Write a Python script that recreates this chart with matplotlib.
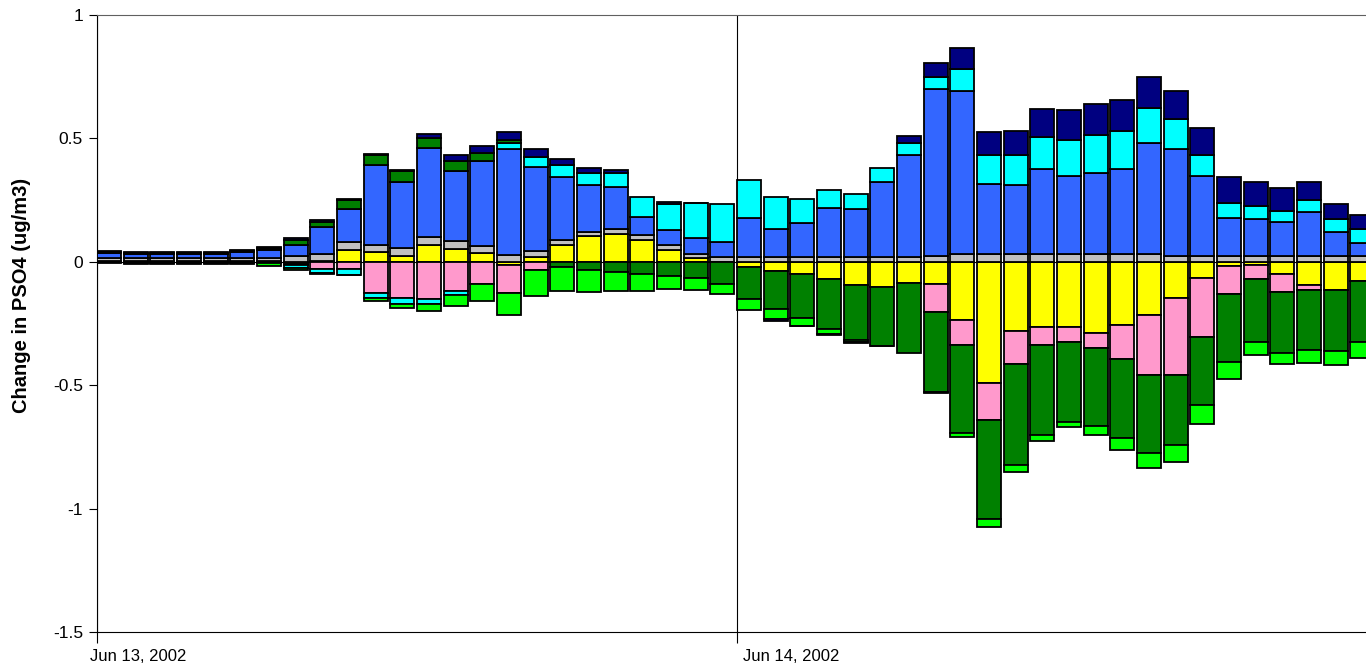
import numpy as np
import matplotlib
matplotlib.use("Agg")
import matplotlib.pyplot as plt
from matplotlib.transforms import ScaledTranslation

plt.rcParams["font.family"] = ["Liberation Sans", "DejaVu Sans"]

# hourly contributions, starting Jun 13, 2002 00:00 (one bar per hour)
hours = np.arange(48)

yellow = [0.003, 0.003, 0.003, 0.003, 0.003, 0.003, 0.003, -0.008, 0.002, 0.049,
          0.038, 0.024, 0.067, 0.053, 0.034, -0.012, 0.020, 0.070, 0.103, 0.112,
          0.089, 0.047, 0.016, 0.0, -0.022, -0.038, -0.049, -0.069, -0.096, -0.103,
          -0.087, -0.090, -0.236, -0.490, -0.279, -0.265, -0.265, -0.288, -0.258, -0.215,
          -0.148, -0.067, -0.019, -0.011, -0.049, -0.093, -0.113, -0.077]
gray = [0.012, 0.012, 0.012, 0.012, 0.012, 0.013, 0.014, 0.024, 0.030, 0.032,
        0.030, 0.032, 0.032, 0.032, 0.030, 0.028, 0.024, 0.020, 0.018, 0.021,
        0.020, 0.022, 0.016, 0.020, 0.019, 0.019, 0.019, 0.019, 0.019, 0.019,
        0.020, 0.024, 0.032, 0.032, 0.032, 0.032, 0.032, 0.032, 0.032, 0.032,
        0.024, 0.023, 0.023, 0.023, 0.023, 0.023, 0.023, 0.023]
pink = [-0.002, -0.003, -0.003, -0.003, -0.003, -0.003, -0.006, -0.006, -0.028, -0.030,
        -0.126, -0.146, -0.150, -0.119, -0.089, -0.115, -0.034, 0.0, 0.0, 0.0,
        0.0, 0.0, 0.0, 0.0, 0.0, 0.0, 0.0, 0.0, 0.0, 0.0,
        0.0, -0.114, -0.101, -0.151, -0.134, -0.074, -0.061, -0.061, -0.135, -0.243,
        -0.310, -0.239, -0.113, -0.058, -0.073, -0.020, 0.0, 0.0]
blue = [0.022, 0.018, 0.018, 0.018, 0.018, 0.024, 0.030, 0.044, 0.107, 0.134,
        0.324, 0.267, 0.364, 0.283, 0.346, 0.430, 0.341, 0.252, 0.189, 0.172,
        0.072, 0.059, 0.064, 0.062, 0.159, 0.115, 0.137, 0.198, 0.195, 0.303,
        0.414, 0.675, 0.662, 0.283, 0.279, 0.344, 0.314, 0.328, 0.346, 0.448,
        0.435, 0.325, 0.154, 0.152, 0.137, 0.177, 0.097, 0.055]
cyan = [0.002, 0.002, 0.002, 0.002, 0.002, 0.002, 0.004, -0.010, -0.018, -0.022,
        -0.022, -0.024, -0.020, -0.014, 0.0, 0.022, 0.040, 0.049, 0.051, 0.055,
        0.081, 0.107, 0.141, 0.154, 0.153, 0.130, 0.098, 0.073, 0.061, 0.057,
        0.049, 0.051, 0.087, 0.118, 0.121, 0.131, 0.148, 0.154, 0.152, 0.145,
        0.118, 0.085, 0.061, 0.050, 0.045, 0.051, 0.054, 0.055]
dgreen = [0.002, 0.002, 0.002, 0.002, 0.002, 0.002, 0.004, 0.021, 0.024, 0.036,
          0.040, 0.043, 0.040, 0.040, 0.031, 0.015, 0.0, -0.021, -0.032, -0.040,
          -0.049, -0.057, -0.065, -0.089, -0.128, -0.155, -0.178, -0.202, -0.221, -0.237,
          -0.283, -0.325, -0.355, -0.403, -0.412, -0.364, -0.323, -0.316, -0.322, -0.316,
          -0.283, -0.273, -0.272, -0.257, -0.247, -0.246, -0.250, -0.247]
lime = [-0.002, -0.005, -0.005, -0.005, -0.005, -0.005, -0.009, -0.008, -0.003, -0.003,
        -0.010, -0.019, -0.030, -0.047, -0.068, -0.087, -0.103, -0.096, -0.091, -0.080,
        -0.068, -0.053, -0.049, -0.042, -0.047, -0.037, -0.032, -0.022, -0.006, 0.0,
        0.0, -0.004, -0.017, -0.032, -0.028, -0.025, -0.022, -0.035, -0.049, -0.062,
        -0.070, -0.078, -0.070, -0.052, -0.047, -0.050, -0.055, -0.064]
navy = [0.003, 0.002, 0.002, 0.002, 0.002, 0.003, 0.004, 0.007, 0.005, 0.003,
        0.005, 0.004, 0.014, 0.023, 0.029, 0.032, 0.032, 0.025, 0.021, 0.013,
        0.0, 0.007, 0.003, 0.0, 0.0, -0.009, -0.003, -0.005, -0.008, -0.003,
        0.027, 0.054, 0.084, 0.091, 0.098, 0.111, 0.120, 0.126, 0.126, 0.122,
        0.116, 0.111, 0.107, 0.100, 0.096, 0.073, 0.060, 0.057]

series = [yellow, gray, pink, blue, cyan, dgreen, lime, navy]
colors = ["#FFFF00", "#C0C0C0", "#FF99CC", "#3366FF",
          "#00FFFF", "#008000", "#00FF00", "#000080"]

y_ticks = [1, 0.5, 0, -0.5, -1, -1.5]
y_tick_labels = ["1", "0.5", "0", "-0.5", "-1", "-1.5"]
x_ticks = [0, 24]
x_tick_labels = ["Jun 13, 2002", "Jun 14, 2002"]

W, H = 1366, 665
fig = plt.figure(figsize=(W / 100, H / 100), dpi=100)
ax = fig.add_axes([97 / W, 1 - 632 / H, 1 - 97 / W, (632 - 15) / H])

# positives stack upward from zero, negatives stack downward from zero
pos_base = np.zeros(len(hours))
neg_base = np.zeros(len(hours))
for vals, col in zip(series, colors):
    v = np.asarray(vals, dtype=float)
    base = np.where(v >= 0, pos_base, neg_base)
    m = v != 0
    ax.bar(hours[m], v[m], width=0.9, bottom=base[m], align="edge",
           color=col, edgecolor="black", linewidth=1.3, zorder=3)
    pos_base += np.clip(v, 0, None)
    neg_base += np.clip(v, None, 0)

ax.set_xlim(0, (W - 97) / (640 / 24))
ax.set_ylim(-1.5, 1)

ax.axhline(0, color="black", linewidth=0.8, zorder=2)

ax.set_yticks(y_ticks)
ax.set_yticklabels(y_tick_labels, fontsize=12.5)
ax.set_xticks(x_ticks)
ax.set_xticklabels(x_tick_labels, fontsize=12, ha="left")
ax.tick_params(axis="y", direction="out", length=6, width=0.8, pad=4)
ax.tick_params(axis="x", direction="out", length=8, width=0.8, pad=4)
offsets = [-7, 6]
for lab, dx in zip(ax.get_xticklabels(), offsets):
    lab.set_transform(lab.get_transform() + ScaledTranslation(dx / 100, 0, fig.dpi_scale_trans))

ax.xaxis.grid(True, color="black", linewidth=0.8, zorder=1)
ax.set_axisbelow(True)

for side in ["left", "bottom"]:
    ax.spines[side].set_color("black")
    ax.spines[side].set_linewidth(0.8)
ax.spines["top"].set_color("#606060")
ax.spines["top"].set_linewidth(0.8)
ax.spines["right"].set_visible(False)

ax.set_ylabel("Change in PSO4 (ug/m3)", fontsize=14.5, fontweight="bold")
ax.yaxis.set_label_coords(-66 / (W - 97), (632 - 295) / (632 - 15))

fig.savefig("out.png", dpi=100)
